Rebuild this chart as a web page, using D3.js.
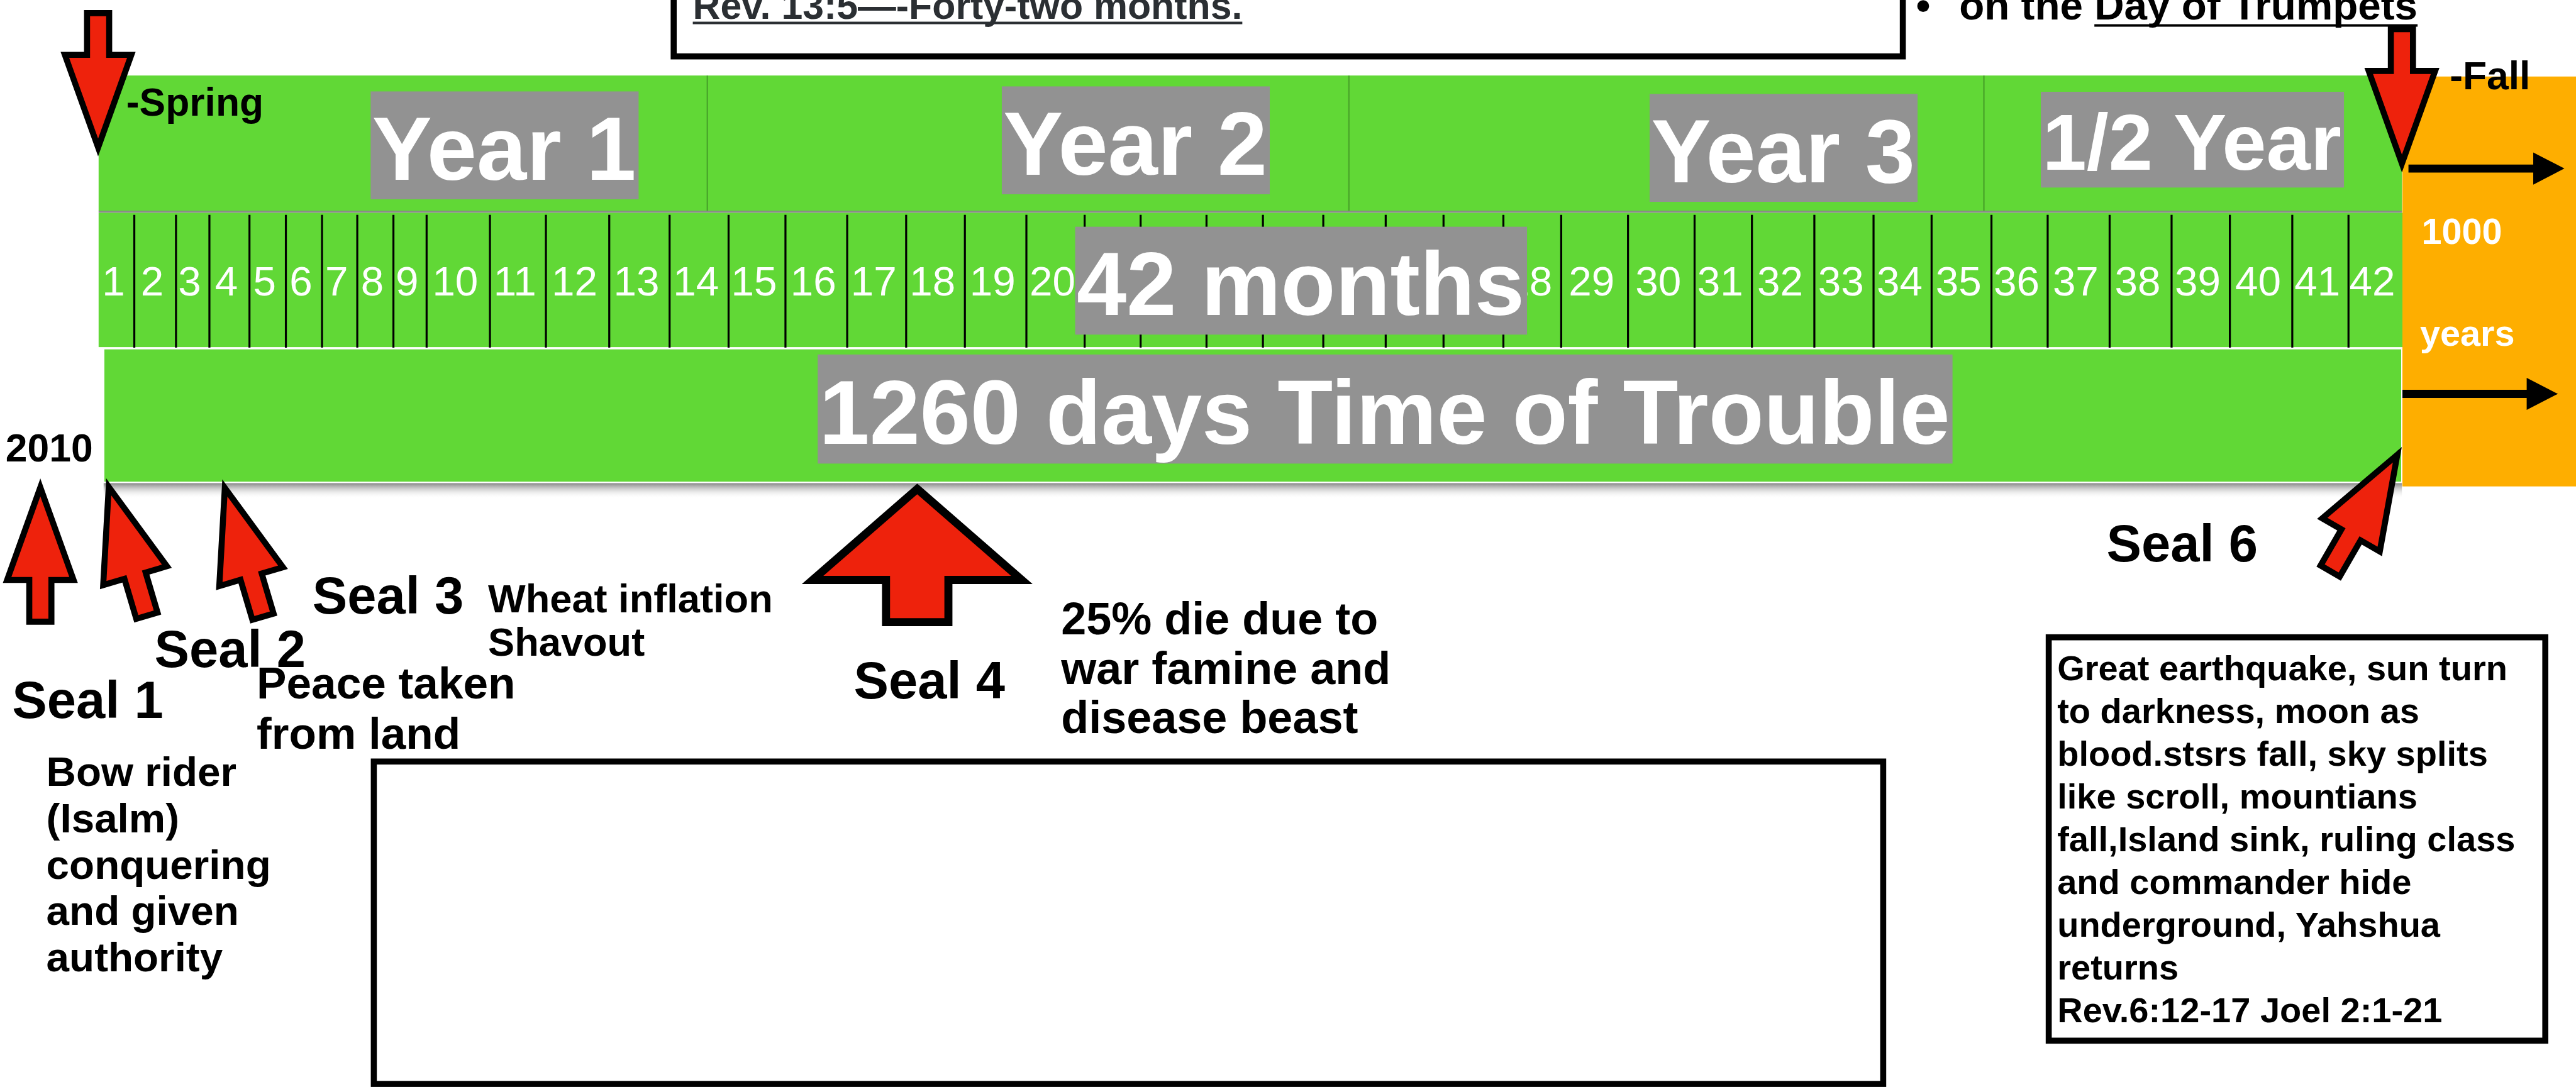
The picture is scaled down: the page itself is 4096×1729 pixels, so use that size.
<!DOCTYPE html>
<html><head><meta charset="utf-8">
<script src="https://cdn.jsdelivr.net/npm/d3@7"></script>
<style>html,body{margin:0;padding:0;background:#fff;overflow:hidden}</style>
</head><body>
<svg id="c" width="4096" height="1729" viewBox="0 0 5120 2161"></svg>
<script>
// ---------------- DATA ----------------
const monthLabels = ["1","2","3","4","5","6","7","8","9","10","11","12","13","14","15","16","17","18","19","20","21","22","23","24","25","26","27","28","29","30","31","32","33","34","35","36","37","38","39","40","41","42"];
// month boundaries, in percent of the 1260-day timeline
const monthEdges = [0,1.55,3.36,4.81,6.55,8.13,9.70,11.23,12.80,14.24,16.99,19.42,22.17,24.79,27.35,29.82,32.50,35.06,37.61,40.28,42.81,45.24,48.10,50.55,53.17,55.88,58.39,60.99,63.50,66.40,69.29,71.78,74.49,77.06,79.58,82.18,84.62,87.31,90.00,92.53,95.24,97.68,100];
const yearLabels = ["Year 1","Year 2","Year 3","1/2 Year"];
const yearEdges = [0,26.43,54.28,81.85,100];
const periodLabels = ["42 months","1260 days Time of Trouble"];
const seasonLabels = ["-Spring","-Fall"];
const seasonPos = [0,100];
const millenniumLabels = ["1000","years"];
const sealNames = ["Seal 1","Seal 2","Seal 3","Seal 4","Seal 6"];
const sealPos = [-2.53,0.44,5.48,35.54,99.8];
const sealNotes = [
  ["Bow rider","(Isalm)","conquering","and given","authority"],
  ["Peace taken","from land"],
  ["Wheat inflation","Shavout"],
  ["25% die due to","war famine and","disease beast"],
  ["Great earthquake, sun turn","to darkness, moon as","blood.stsrs fall, sky splits","like scroll, mountians","fall,Island sink, ruling class","and commander hide","underground, Yahshua","returns","Rev.6:12-17 Joel 2:1-21"]
];
const startYear = "2010";
const verseText = "Rev. 13:5\u2014-Forty-two months.";
const trumpetText = ["on the ","Day of Trumpets"];

// ---------------- STYLE / LAYOUT ----------------
const GREEN="#61D836", GRAY="#929292", ORANGE="#FEAE00", RED="#EE220C";
const FONT="'Liberation Sans', Arial, Helvetica, sans-serif";
const svg=d3.select("#c");
const x=d3.scaleLinear().domain([0,100]).range([196,4774]);

const defs=svg.append("defs");
const sg=defs.append("linearGradient").attr("id","shadow").attr("x1",0).attr("y1",0).attr("x2",0).attr("y2",1);
sg.append("stop").attr("offset","0%").attr("stop-color","#7a7a7a");
sg.append("stop").attr("offset","100%").attr("stop-color","#ffffff").attr("stop-opacity",0);

function txt(g,s,px,py,fs,opt={}){
  return g.append("text").attr("x",px).attr("y",py)
    .attr("font-family",FONT).attr("font-size",fs)
    .attr("font-weight",opt.weight||"bold")
    .attr("fill",opt.fill||"#000")
    .attr("text-anchor",opt.anchor||"start").text(s);
}
function boxedLabel(parent,s,cx,base,fs){
  const g=parent.append("g");
  const r=g.append("rect").attr("fill",GRAY);
  const t=txt(g,s,cx,base,fs,{fill:"#fff",anchor:"middle"});
  const w=t.node().getComputedTextLength();
  r.attr("x",cx-w/2-3).attr("y",base-0.985*fs).attr("width",w+8).attr("height",1.205*fs);
}

// ---- top "Rev" box ----
const gTop=svg.append("g");
gTop.append("rect").attr("x",1339).attr("y",-60).attr("width",2443).attr("height",172)
  .attr("fill","#fff").attr("stroke","#000").attr("stroke-width",12);
const rv=txt(gTop,verseText,1377,37,76,{fill:"#2b2f33"});
const rvw=rv.node().getComputedTextLength();
gTop.append("rect").attr("x",1377).attr("y",43).attr("width",rvw).attr("height",5).attr("fill","#2b2f33");

txt(gTop,"\u2022",3808,39,82);
const tt=txt(gTop,trumpetText[0]+trumpetText[1],3894,39,82);
const tw=tt.node().getComputedTextLength();
const tw0=tt.node().getSubStringLength(0,trumpetText[0].length);
gTop.append("rect").attr("x",3894+tw0).attr("y",48).attr("width",tw-tw0).attr("height",5).attr("fill","#000");

// ---- year band ----
const yb=svg.append("g");
const yearSeg=yearLabels.map((l,i)=>({label:l,a:yearEdges[i],b:yearEdges[i+1]}));
yb.selectAll("rect.seg").data(yearSeg).join("rect").attr("class","seg")
  .attr("x",d=>x(d.a)).attr("y",150).attr("width",d=>x(d.b)-x(d.a)).attr("height",270).attr("fill",GREEN);
yb.selectAll("line.sep").data(yearEdges.slice(1,-1)).join("line")
  .attr("x1",d=>x(d)).attr("x2",d=>x(d)).attr("y1",150).attr("y2",420)
  .attr("stroke","#4aa82a").attr("stroke-width",3);
yb.append("rect").attr("x",x(0)).attr("y",419).attr("width",x(100)-x(0)).attr("height",4).attr("fill","#8a8a8a");
const yearShift=[201,213,232,-2];
const yearBase=[357,347,362,338];
const yearFs=[178,178,178,158];
yearSeg.forEach((d,i)=>{
  boxedLabel(yb,d.label,(x(d.a)+x(d.b))/2+yearShift[i],yearBase[i],yearFs[i]);
});

// ---- month row ----
const mr=svg.append("g");
mr.append("rect").attr("x",x(0)).attr("y",423).attr("width",x(100)-x(0)+6).attr("height",267).attr("fill",GREEN);
mr.selectAll("line.div").data(monthEdges.slice(1,-1)).join("line")
  .attr("x1",d=>x(d)).attr("x2",d=>x(d)).attr("y1",427).attr("y2",691)
  .attr("stroke","#000").attr("stroke-width",4);
mr.selectAll("text.m").data(monthLabels).join("text").attr("class","m")
  .attr("x",(d,i)=>(x(monthEdges[i])+x(monthEdges[i+1]))/2-6).attr("y",588)
  .attr("text-anchor","middle").attr("font-family",FONT).attr("font-size",82)
  .attr("fill","#fff").text(d=>d);
boxedLabel(svg,periodLabels[0],2585,626,178);

// ---- lower band ----
const lb=svg.append("g");
lb.append("rect").attr("x",206).attr("y",959).attr("width",x(100)-206).attr("height",32).attr("fill","url(#shadow)");
lb.append("rect").attr("x",206).attr("y",693).attr("width",x(100)-206).attr("height",266)
  .attr("fill",GREEN).attr("stroke","#fff").attr("stroke-width",3);
boxedLabel(lb,periodLabels[1],2752,882,180);

// ---- orange millennium block ----
const ob=svg.append("g");
ob.append("rect").attr("x",x(100)+1).attr("y",152).attr("width",5120-x(100)).attr("height",815).attr("fill",ORANGE);
txt(ob,millenniumLabels[0],4813,485,72,{fill:"#fff"});
txt(ob,millenniumLabels[1],4810,688,72,{fill:"#fff"});
function hArrow(g,x0,x1,y){
  g.append("path").attr("d",`M${x0},${y-8}L${x1-62},${y-8}L${x1-62},${y-32}L${x1},${y}L${x1-62},${y+32}L${x1-62},${y+8}L${x0},${y+8}Z`).attr("fill","#000");
}
hArrow(ob,4787,5097,335);
hArrow(ob,4775,5084,783);

// ---- arrows ----
const line=d3.line();
const smallArrow=[[0,0],[66,184],[22,184],[22,267],[-22,267],[-22,184],[-66,184]];
const bigArrow=[[0,0],[208,181],[62,181],[62,265],[-62,265],[-62,181],[-208,181]];
function arrow(g,shape,px,py,ang,sw){
  g.append("path").attr("d",line(shape)+"Z")
    .attr("transform",`translate(${px},${py}) rotate(${ang})`)
    .attr("fill",RED).attr("stroke","#000").attr("stroke-width",sw)
    .attr("stroke-linejoin","miter").attr("stroke-miterlimit",6);
}
const ar=svg.append("g");
const seasonTipY=[293,325];
seasonPos.forEach((p,i)=>arrow(ar,smallArrow,x(p)-(i?0:1),seasonTipY[i],180,12));
txt(ar,seasonLabels[0],251,230,78);
txt(ar,seasonLabels[1],4869,178,78);

const sealTipY=[969,968,970,972,904];
const sealAng=[0,-16.5,-16.5,0,30];
sealPos.forEach((p,i)=>{
  arrow(ar,i===3?bigArrow:smallArrow,x(p),sealTipY[i],sealAng[i],i===3?16:12);
});

// ---- labels ----
const lab=svg.append("g");
txt(lab,startYear,11,917,78);
const sealLabelXY=[[24,1427],[307,1326],[621,1220],[1697,1389],[4187,1116]];
sealNames.forEach((s,i)=>txt(lab,s,sealLabelXY[i][0],sealLabelXY[i][1],104));
function multiline(g,lines,px,py,fs,lh){
  const t=g.append("text").attr("font-family",FONT).attr("font-size",fs).attr("font-weight","bold").attr("fill","#000");
  lines.forEach((l,i)=>t.append("tspan").attr("x",px).attr("y",py+i*lh).text(l));
}
multiline(lab,sealNotes[0],92,1563,82,92);
multiline(lab,sealNotes[1],510,1389,89,100);
multiline(lab,sealNotes[2],970,1218,79,86);
multiline(lab,sealNotes[3],2109,1261,90,98.5);

lab.append("rect").attr("x",4072).attr("y",1267).attr("width",987).attr("height",802)
  .attr("fill","none").attr("stroke","#000").attr("stroke-width",12);
multiline(lab,sealNotes[4],4089,1352,70,85.1);

lab.append("rect").attr("x",743).attr("y",1514).attr("width",3000).attr("height",641)
  .attr("fill","none").attr("stroke","#000").attr("stroke-width",12);
</script>
</body></html>
